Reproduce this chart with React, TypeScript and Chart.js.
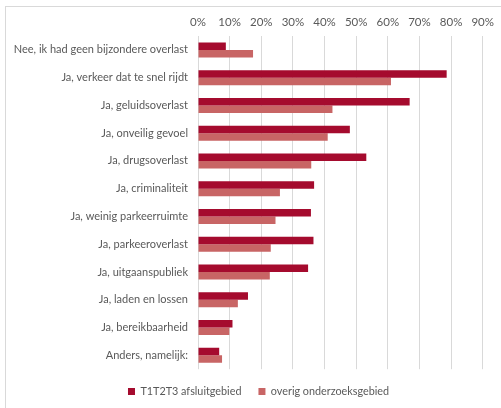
import React, { useEffect, useRef } from "react";
import { Chart, registerables } from "chart.js";

Chart.register(...registerables);

const categories = [
  "Nee, ik had geen bijzondere overlast",
  "Ja, verkeer dat te snel rijdt",
  "Ja, geluidsoverlast",
  "Ja, onveilig gevoel",
  "Ja, drugsoverlast",
  "Ja, criminaliteit",
  "Ja, weinig parkeerruimte",
  "Ja, parkeeroverlast",
  "Ja, uitgaanspubliek",
  "Ja, laden en lossen",
  "Ja, bereikbaarheid",
  "Anders, namelijk:",
];

const seriesNames = ["T1T2T3 afsluitgebied", "overig onderzoeksgebied"];

const afsluitgebied = [0.088, 0.786, 0.669, 0.48, 0.532, 0.367, 0.357, 0.365, 0.348, 0.158, 0.109, 0.067];
const overig = [0.174, 0.61, 0.425, 0.41, 0.358, 0.259, 0.245, 0.23, 0.227, 0.126, 0.099, 0.076];

const tickValues = [0, 0.1, 0.2, 0.3, 0.4, 0.5, 0.6, 0.7, 0.8, 0.9];

const FONT = "Lato, 'Source Sans Pro', sans-serif";

const legendShift = {
  id: "legendShift",
  afterLayout(chart: any) {
    const lg = chart.legend;
    if (lg) {
      lg.left += 17;
      lg.right += 17;
    }
  },
};

export default function App() {
  const ref = useRef<HTMLCanvasElement | null>(null);

  useEffect(() => {
    document.body.style.margin = "0";
    const ctx = ref.current;
    if (!ctx) return;
    const chart = new Chart(ctx, {
      type: "bar",
      data: {
        labels: categories,
        datasets: [
          {
            label: seriesNames[0],
            data: afsluitgebied,
            backgroundColor: "#A50B2E",
            borderWidth: 0,
            categoryPercentage: 0.54,
            barPercentage: 1.0,
          },
          {
            label: seriesNames[1],
            data: overig,
            backgroundColor: "#C86565",
            borderWidth: 0,
            categoryPercentage: 0.54,
            barPercentage: 1.0,
          },
        ],
      },
      options: {
        indexAxis: "y",
        animation: false,
        responsive: false,
        maintainAspectRatio: false,
        layout: { padding: { left: 0, right: 18, top: 8, bottom: 1 } },
        scales: {
          x: {
            position: "top",
            min: 0,
            max: 0.9,
            afterBuildTicks: (scale: any) => {
              scale.ticks = tickValues.map((v) => ({ value: v }));
            },
            afterFit: (scale: any) => {
              scale.height = 28;
            },
            grid: { color: "#d9d9d9", lineWidth: 1, drawTicks: false },
            border: { display: false },
            ticks: {
              padding: 7,
              color: "#595959",
              font: { family: FONT, size: 11.5 },
              callback: (v: any) => Math.round(Number(v) * 100) + "%",
            },
          },
          y: {
            afterFit: (scale: any) => {
              scale.width = 198;
            },
            grid: { display: false, drawTicks: false },
            border: { display: false },
            ticks: {
              padding: 10,
              color: "#595959",
              font: { family: FONT, size: 11 },
            },
          },
        },
        plugins: {
          legend: {
            position: "bottom",
            labels: {
              boxWidth: 7,
              boxHeight: 7,
              padding: 17,
              color: "#595959",
              font: { family: FONT, size: 10.8 },
            },
          },
          tooltip: { enabled: false },
        },
      },
      plugins: [legendShift],
    });
    return () => chart.destroy();
  }, []);

  return (
    <div style={{ position: "relative", width: 501, height: 408, background: "#fff", overflow: "hidden" }}>
      <div
        style={{
          position: "absolute",
          left: 5,
          top: 6,
          width: 520,
          height: 420,
          borderTop: "1.5px solid #d9d9d9",
          borderLeft: "1.5px solid #d9d9d9",
        }}
      />
      <canvas ref={ref} width={501} height={408} style={{ position: "absolute", left: 0, top: 0 }} />
    </div>
  );
}
